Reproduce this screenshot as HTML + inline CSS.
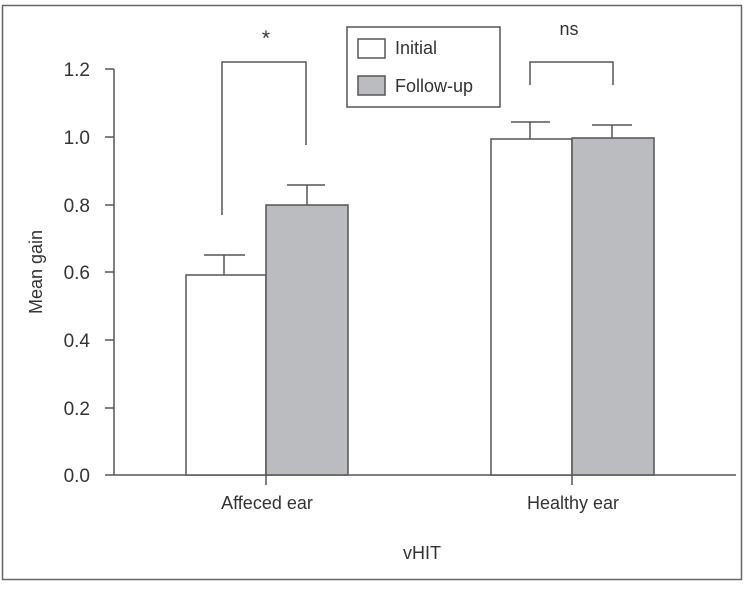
<!DOCTYPE html>
<html><head><style>body{margin:0;background:#fff}</style></head><body>
<svg width="756" height="588" xmlns="http://www.w3.org/2000/svg" font-family="Liberation Sans, sans-serif" fill="none" stroke="#555" stroke-width="1.5">
<rect x="2.5" y="5.5" width="739" height="574" stroke="#666"/>
<line x1="114" y1="69" x2="114" y2="475"/>
<line x1="114" y1="475" x2="736" y2="475"/>
<g>
<line x1="105" y1="69" x2="114" y2="69"/><line x1="105" y1="137" x2="114" y2="137"/><line x1="105" y1="205" x2="114" y2="205"/><line x1="105" y1="272" x2="114" y2="272"/><line x1="105" y1="340" x2="114" y2="340"/><line x1="105" y1="408" x2="114" y2="408"/><line x1="105" y1="475" x2="114" y2="475"/>
<line x1="266" y1="475" x2="266" y2="485"/><line x1="572" y1="475" x2="572" y2="485"/>
</g>
<g fill="#333" stroke="none" font-size="19" text-anchor="end">
<text x="90" y="76">1.2</text><text x="90" y="144">1.0</text><text x="90" y="212">0.8</text><text x="90" y="279">0.6</text><text x="90" y="347">0.4</text><text x="90" y="415">0.2</text><text x="90" y="482">0.0</text>
</g>
<g fill="#333" stroke="none" font-size="18" text-anchor="middle">
<text x="267" y="509">Affeced ear</text><text x="573" y="509">Healthy ear</text><text x="422" y="559">vHIT</text>
<text transform="translate(42,272) rotate(-90)">Mean gain</text>
<text x="266" y="45" font-size="21">*</text><text x="569" y="35">ns</text>
</g>
<line x1="224" y1="275" x2="224" y2="255"/><line x1="204" y1="255" x2="245" y2="255"/>
<line x1="307" y1="205" x2="307" y2="185"/><line x1="287" y1="185" x2="325" y2="185"/>
<line x1="530" y1="139" x2="530" y2="122"/><line x1="511" y1="122" x2="550" y2="122"/>
<line x1="612" y1="138" x2="612" y2="125"/><line x1="592" y1="125" x2="632" y2="125"/>
<rect x="186" y="275" width="80" height="200" fill="#fff"/>
<rect x="266" y="205" width="82" height="270" fill="#bbbcbf"/>
<rect x="491" y="139" width="81" height="336" fill="#fff"/>
<rect x="572" y="138" width="82" height="337" fill="#bbbcbf"/>
<polyline points="222,215 222,62 306,62 306,145"/>
<polyline points="530,85 530,62 613,62 613,85"/>
<rect x="347" y="27" width="153" height="80" fill="#fff"/>
<rect x="358" y="39" width="27" height="19" fill="#fff"/>
<rect x="358" y="76" width="27" height="19" fill="#bbbcbf"/>
<g fill="#333" stroke="none" font-size="18"><text x="395" y="54">Initial</text><text x="395" y="92">Follow-up</text></g>
</svg>
</body></html>
